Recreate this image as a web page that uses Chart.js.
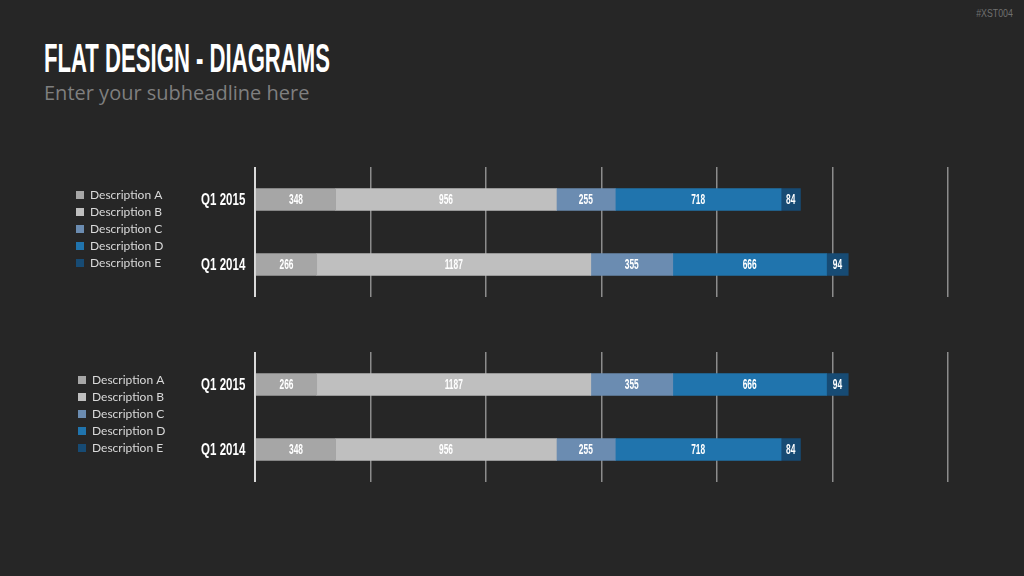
<!DOCTYPE html>
<html lang="en">
<head>
    <meta charset="UTF-8">
    <title>Flat Design - Diagrams</title>
    <style>
        body {
            margin: 0;
            width: 1024px;
            height: 576px;
            background-color: #262626;
            overflow: hidden;
            position: relative;
            font-family: 'Open Sans', sans-serif;
        }

        .tag {
            position: absolute;
            right: 11px;
            top: 7px;
            font-family: 'Liberation Sans', sans-serif;
            font-size: 11px;
            color: #707070;
            transform: scaleX(0.8);
            transform-origin: right top;
        }

        h1 {
            position: absolute;
            left: 44px;
            top: 36px;
            margin: 0;
            font-family: 'Liberation Sans', sans-serif;
            font-weight: bold;
            font-size: 40px;
            line-height: 44px;
            color: #ffffff;
            white-space: nowrap;
            transform-origin: left top;
        }

        .sub {
            position: absolute;
            left: 44px;
            top: 79px;
            font-size: 20px;
            color: #7f7f7f;
            white-space: nowrap;
        }

        .chart-box {
            position: absolute;
            width: 900px;
            height: 140px;
        }
    </style>
    <script src="https://cdn.jsdelivr.net/npm/chart.js"></script>
</head>
<body>

    <div class="tag">#XST004</div>
    <h1 id="title">FLAT DESIGN - DIAGRAMS</h1>
    <div class="sub">Enter your subheadline here</div>

    <div class="chart-box" style="left: 71px; top: 162px;"><canvas id="chartTop"></canvas></div>
    <div class="chart-box" style="left: 73px; top: 347px;"><canvas id="chartBottom"></canvas></div>

<script>
    // 上のグラフ
    const topQuarters = ['Q1 2015', 'Q1 2014'];
    const topA = [348, 266];
    const topB = [956, 1187];
    const topC = [255, 355];
    const topD = [718, 666];
    const topE = [84, 94];

    // 下のグラフ
    const bottomQuarters = ['Q1 2015', 'Q1 2014'];
    const bottomA = [266, 348];
    const bottomB = [1187, 956];
    const bottomC = [355, 255];
    const bottomD = [666, 718];
    const bottomE = [94, 84];

    const seriesNames = ['Description A', 'Description B', 'Description C', 'Description D', 'Description E'];
    const seriesColors = ['#a6a6a6', '#bfbfbf', '#6b8cb1', '#2074ad', '#174b74'];
    const axisMax = 3000;
    const axisStep = 500;

    // 細い字体がないので横方向に縮める
    const narrowFont = "'Liberation Sans', sans-serif";

    // タイトル幅を合わせる
    const title = document.getElementById('title');
    title.style.transform = `scaleX(${286 / title.offsetWidth})`;

    function drawNarrow(ctx, text, x, y, squeeze) {
        ctx.save();
        ctx.translate(x, y);
        ctx.scale(squeeze, 1);
        ctx.fillText(text, 0, 0);
        ctx.restore();
    }

    // バーの中の数値とカテゴリ名
    const barLabels = {
        id: 'barLabels',
        afterDatasetsDraw(chart) {
            const ctx = chart.ctx;
            ctx.save();
            ctx.fillStyle = '#ffffff';
            ctx.textBaseline = 'middle';

            ctx.font = `bold 14px ${narrowFont}`;
            ctx.textAlign = 'center';
            chart.data.datasets.forEach((ds, i) => {
                chart.getDatasetMeta(i).data.forEach((bar, j) => {
                    const p = bar.getProps(['x', 'y', 'base'], true);
                    drawNarrow(ctx, ds.data[j], (p.x + p.base) / 2, p.y + 1, 0.6);
                });
            });

            const yScale = chart.scales.y;
            ctx.font = `bold 16px ${narrowFont}`;
            ctx.textAlign = 'right';
            chart.data.labels.forEach((label, i) => {
                drawNarrow(ctx, label, chart.chartArea.left - 10, yScale.getPixelForTick(i) + 1, 0.72);
            });
            ctx.restore();
        }
    };

    function makeChart(id, quarters, values, axisWidth, rightPad) {
        return new Chart(document.getElementById(id), {
            type: 'bar',
            data: {
                labels: quarters,
                datasets: values.map((v, i) => ({
                    label: seriesNames[i],
                    data: v,
                    backgroundColor: seriesColors[i],
                    borderWidth: 0,
                    barThickness: 22
                }))
            },
            options: {
                indexAxis: 'y',
                responsive: true,
                maintainAspectRatio: false,
                animation: false,
                layout: { padding: { top: 5, bottom: 5, right: rightPad } },
                plugins: {
                    tooltip: { enabled: false },
                    legend: {
                        position: 'left',
                        align: 'start',
                        title: { display: true, text: '', font: { size: 10 }, padding: { top: 2, bottom: 3 } },
                        labels: {
                            color: '#d9d9d9',
                            boxWidth: 8,
                            boxHeight: 8,
                            padding: 5,
                            font: { family: 'Lato, sans-serif', size: 12 }
                        }
                    }
                },
                scales: {
                    x: {
                        stacked: true,
                        min: 0,
                        max: axisMax,
                        ticks: { display: false, stepSize: axisStep },
                        border: { display: false },
                        grid: {
                            drawTicks: false,
                            color: (c) => c.index === 0 ? '#d9d9d9' : '#8c8c8c',
                            lineWidth: (c) => c.index === 0 ? 2 : 1.5
                        }
                    },
                    y: {
                        stacked: true,
                        afterFit(scale) { scale.width = axisWidth; },
                        border: { display: false },
                        grid: { display: false },
                        ticks: { display: false }
                    }
                }
            },
            plugins: [barLabels]
        });
    }

    makeChart('chartTop', topQuarters, [topA, topB, topC, topD, topE], 82, 23);
    makeChart('chartBottom', bottomQuarters, [bottomA, bottomB, bottomC, bottomD, bottomE], 80, 25);
</script>

</body>
</html>
